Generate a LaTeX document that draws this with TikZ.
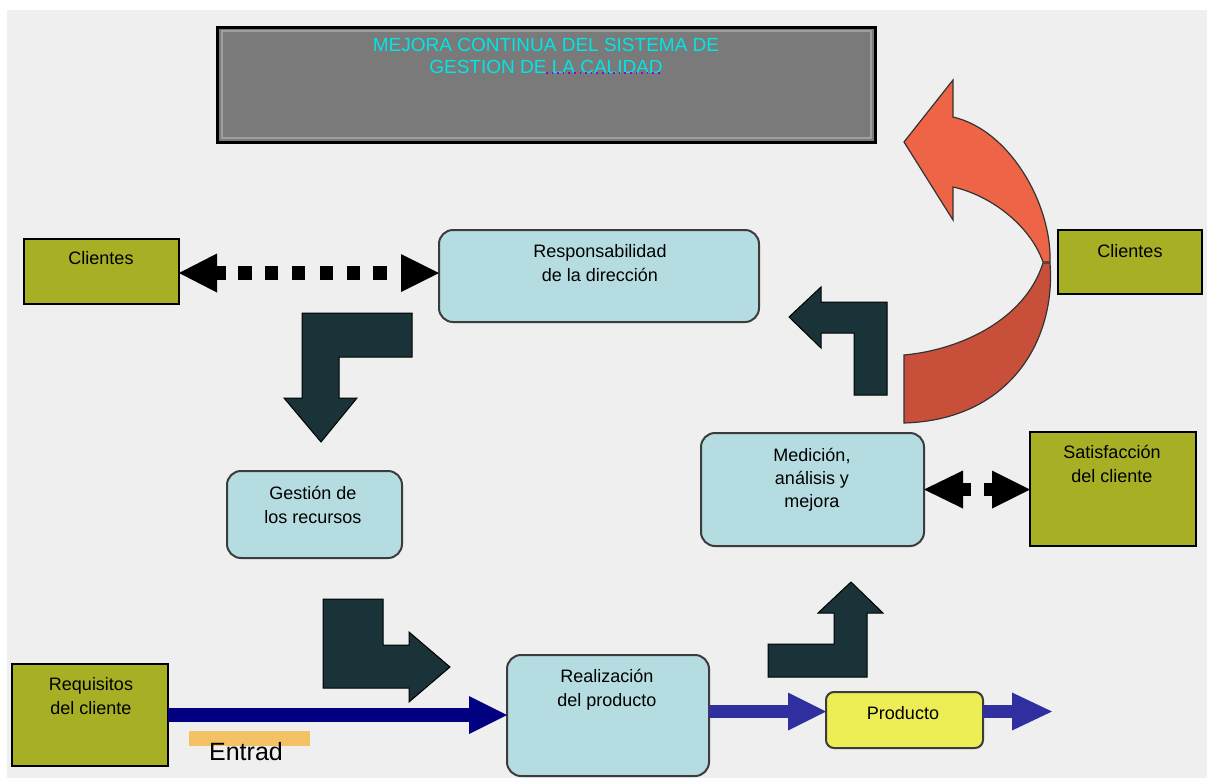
\documentclass[tikz,border=0pt]{standalone}
\usepackage{fontspec}
\setmainfont{Liberation Sans}
\usetikzlibrary{arrows.meta,calc}
\definecolor{bgc}{HTML}{EFEFEF}
\definecolor{olivebox}{HTML}{A7AF25}
\definecolor{lbox}{HTML}{B5DDE1}
\definecolor{boxborder}{HTML}{3C3C3C}
\definecolor{dkarrow}{HTML}{193339}
\definecolor{navyarrow}{HTML}{000080}
\definecolor{bluearrow}{HTML}{2F2FA0}
\definecolor{redlight}{HTML}{EE6446}
\definecolor{reddark}{HTML}{C8503A}
\definecolor{titlegray}{HTML}{7A7A7A}
\definecolor{titlecyan}{HTML}{00E6E6}
\definecolor{prodyellow}{HTML}{EDED55}
\definecolor{entradbar}{HTML}{F2C265}
\definecolor{squiggle}{HTML}{9900CC}
\begin{document}
\begin{tikzpicture}[x=0.5pt,y=-0.5pt,
  every node/.style={inner sep=0pt,outer sep=0pt},
  oliveshape/.style={draw=black,line width=1pt,fill=olivebox},
  blueshape/.style={draw=boxborder,line width=1pt,fill=lbox,rounded corners=7pt},
  txt/.style={font=\fontsize{9}{12}\selectfont,align=center,text=black},
  bent/.style={fill=dkarrow,draw=black,line width=0.5pt},
  ribbon/.style={draw=black!80,line width=0.6pt},
]
\useasboundingbox (0,0) rectangle (1207,778);
\fill[white] (0,0) rectangle (1207,778);
\fill[bgc] (7,10) rectangle (1207,778);

% title box
\node[draw=black,line width=1.5pt,fill=titlegray,minimum width=329pt,minimum height=57.5pt] (title) at (546,84.5) {};
\draw[gray!75,line width=0.8pt] (222,31) rectangle (871,138);
\node[font=\fontsize{9.5}{11}\selectfont,text=titlecyan,align=center] (ttl) at (546,56) {MEJORA CONTINUA DEL SISTEMA DE\\GESTION DE LA CALIDAD};
\draw[squiggle,line width=0.8pt,dotted] (546,73) -- (662,73);

% boxes
\node[oliveshape,minimum width=77.5pt,minimum height=32.5pt] (cl1) at (101.5,271.5) {};
\node[blueshape,minimum width=160pt,minimum height=46pt] (resp) at (599,276) {};
\node[blueshape,minimum width=87.5pt,minimum height=43.5pt] (gest) at (314.5,514.5) {};
\node[blueshape,minimum width=111.5pt,minimum height=56.5pt] (med) at (812.5,489.5) {};
\node[oliveshape,minimum width=83pt,minimum height=57pt] (sat) at (1113,489) {};
\node[oliveshape,minimum width=72pt,minimum height=32pt] (cl2) at (1130,262) {};
\node[oliveshape,minimum width=78pt,minimum height=51pt] (req) at (90,715) {};
\node[blueshape,minimum width=101pt,minimum height=60.5pt] (real) at (608,715.5) {};
\node[draw=boxborder,line width=1pt,fill=prodyellow,rounded corners=4pt,minimum width=78.5pt,minimum height=28pt] (prod) at (904.5,720) {};

% texts
\node[txt] (tcl1) at (101,258) {Clientes};
\node[txt] (tresp) at (600,263) {Responsabilidad\\de la dirección};
\node[txt] (tgest) at (313,505) {Gestión de\\los recursos};
\node[txt,font=\fontsize{9}{11.5}\selectfont] (tmed) at (812,480) {Medición,\\análisis y\\mejora};
\node[txt] (tsat) at (1112,464) {Satisfacción\\del cliente};
\node[txt] (tcl2) at (1130,251) {Clientes};
\node[txt] (treq) at (91,696) {Requisitos\\del cliente};
\node[txt] (treal) at (607,690) {Realización\\del producto};
\node[txt] (tprod) at (903,713) {Producto};

% Entrad label
\fill[entradbar] (189,731) rectangle (310,746);
\node[font=\fontsize{12.5}{14}\selectfont] (entrad) at (246,752) {Entrad};

% bent arrows
\draw[bent] (412,313) -- (302,313) -- (302,398) -- (284,398) -- (321,442) -- (357,398) -- (339,398) -- (339,357) -- (412,357) -- cycle;
\draw[bent] (323,599) -- (383,599) -- (383,645) -- (409,645) -- (409,632) -- (450,667) -- (409,702) -- (409,688) -- (323,688) -- cycle;
\draw[bent] (768,677) -- (867,677) -- (867,613) -- (883,613) -- (851,582) -- (818,613) -- (834,613) -- (834,644) -- (768,644) -- cycle;
\draw[bent] (854,395) -- (887,395) -- (887,302) -- (821,302) -- (821,287) -- (789,317) -- (821,348) -- (821,333) -- (854,333) -- cycle;

% red curved arrow
\draw[ribbon,fill=reddark] (1043,263) -- (1050,263) .. controls (1056,340) and (1010,420) .. (904,423) -- (904,355) .. controls (960,350) and (1025,320) .. (1043,263) -- cycle;
\draw[ribbon,fill=redlight] (953,80) -- (904,142) -- (953,220) -- (953,187) .. controls (990,195) and (1030,225) .. (1043,262) -- (1050,262) .. controls (1052,205) and (1010,130) .. (953,117) -- cycle;

% connectors
\coordinate (yb) at (0,711.5);
\coordinate (endp) at (1052,711.5);
\draw[navyarrow,line width=7pt,-{Triangle[length=19pt,width=19pt,line width=0pt]}] (req.east) -- (req.east -| real.west);
\draw[bluearrow,line width=6.5pt,-{Triangle[length=19pt,width=19pt,line width=0pt]}] (real.east |- yb) -- (prod.west |- yb);
\draw[bluearrow,line width=6.5pt,-{Triangle[length=20pt,width=19pt,line width=0pt]}] (prod.east |- yb) -- (endp);

\coordinate (yc) at (0,273);
\draw[black,line width=7pt,
  {Triangle[length=19pt,width=19.5pt,line width=0pt]}-{Triangle[length=19pt,width=19pt,line width=0pt]},
  dash pattern=on 4.5pt off 6pt on 7pt off 6.5pt on 6.5pt off 7pt on 6.5pt off 7.5pt on 6.5pt off 7pt on 6.5pt off 6.5pt on 7pt off 20pt]
  (cl1.east |- yc) -- (resp.west |- yc);
\draw[black,line width=6.5pt,
  {Triangle[length=19.5pt,width=19pt,line width=0pt]}-{Triangle[length=19pt,width=19pt,line width=0pt]},
  dash pattern=on 4pt off 6.5pt on 10pt]
  (med.east) -- (med.east -| sat.west);
\end{tikzpicture}
\end{document}
